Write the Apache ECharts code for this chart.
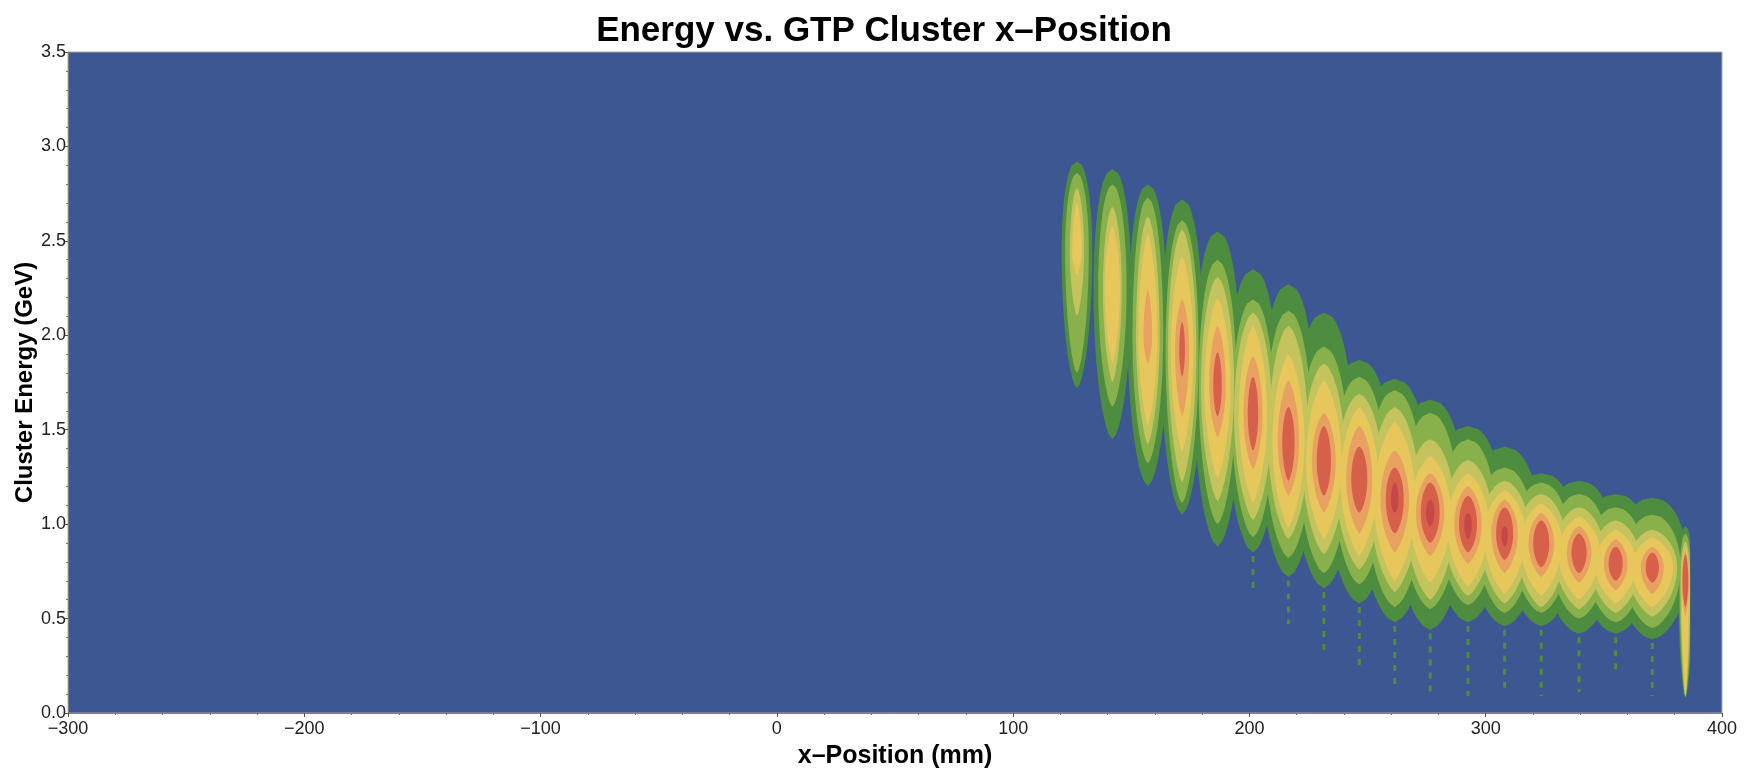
<!DOCTYPE html>
<html>
<head>
<meta charset="utf-8">
<script src="https://cdn.jsdelivr.net/npm/echarts@6/dist/echarts.min.js"></script>
<style>
  html, body { margin: 0; padding: 0; background: #ffffff; }
  #chart { width: 1747px; height: 770px; }
</style>
</head>
<body>
<div id="chart"></div>
<script>
// Crystal columns: x-position of each column (mm) and the energy where its density peaks (GeV)
const COLUMN_X = [127, 142, 157, 171.5, 186.5, 201.5, 216.5, 231.5, 246.5, 261.5, 276.5, 292.5, 308, 323.5, 339.5, 355, 370.5, 384.5];
const PEAK_E   = [2.45, 2.25, 2.0, 1.92, 1.73, 1.58, 1.43, 1.33, 1.24, 1.13, 1.06, 1.0, 0.95, 0.9, 0.85, 0.79, 0.77, 0.70];

// Calorimeter edge: nothing is recorded beyond this x (mm)
const X_EDGE = 386.5;

// Density contour bands, outermost (1) to innermost (7).
// For each column: upper and lower energy of the band (GeV) and its half-width (mm); null = band absent.
const BAND1_TOP    = [2.92, 2.88, 2.80, 2.72, 2.55, 2.35, 2.27, 2.12, 1.87, 1.77, 1.66, 1.52, 1.41, 1.27, 1.23, 1.16, 1.14, 0.99];
const BAND1_BOTTOM = [1.72, 1.45, 1.20, 1.05, 0.88, 0.85, 0.72, 0.66, 0.58, 0.48, 0.44, 0.48, 0.46, 0.46, 0.42, 0.42, 0.39, 0.08];
const BAND1_HALF   = [6.5, 8, 8.5, 9, 10, 11, 12, 13, 14, 15, 15, 15, 15, 15, 15, 15, 15, 3];

const BAND2_TOP    = [2.86, 2.80, 2.73, 2.61, 2.40, 2.19, 2.13, 1.94, 1.78, 1.71, 1.59, 1.45, 1.30, 1.22, 1.16, 1.09, 1.05, 0.95];
const BAND2_BOTTOM = [1.80, 1.62, 1.32, 1.11, 1.00, 0.93, 0.82, 0.74, 0.68, 0.56, 0.55, 0.57, 0.53, 0.53, 0.50, 0.48, 0.45, 0.085];
const BAND2_HALF   = [5, 6, 6.5, 7, 8, 9, 10, 10.5, 11, 12, 12, 12, 12, 12, 12, 12, 12, 2.5];

const BAND3_TOP    = [2.78, 2.68, 2.63, 2.56, 2.31, 2.12, 2.05, 1.85, 1.69, 1.62, 1.45, 1.34, 1.23, 1.16, 1.09, 1.02, 0.97, 0.91];
const BAND3_BOTTOM = [2.10, 1.75, 1.42, 1.22, 1.12, 1.02, 0.92, 0.84, 0.76, 0.64, 0.60, 0.62, 0.58, 0.56, 0.55, 0.53, 0.51, 0.085];
const BAND3_HALF   = [3, 4, 5, 6, 7, 8, 8.5, 9, 10, 10.5, 10.5, 10.5, 10.5, 10.5, 10.5, 10.5, 10.5, 2];

const BAND4_TOP    = [2.70, 2.58, 2.54, 2.42, 2.20, 2.05, 1.90, 1.76, 1.62, 1.54, 1.36, 1.27, 1.18, 1.11, 1.04, 0.97, 0.93, 0.88];
const BAND4_BOTTOM = [2.32, 1.85, 1.52, 1.38, 1.24, 1.11, 0.98, 0.92, 0.83, 0.70, 0.69, 0.67, 0.63, 0.62, 0.60, 0.58, 0.56, 0.09];
const BAND4_HALF   = [2, 3.2, 4, 4.8, 5.5, 6, 6.8, 7.5, 8, 8.8, 8.8, 8.8, 8.8, 8.8, 8.8, 8.8, 8.8, 1.5];

const BAND5_TOP    = [null, null, 2.24, 2.19, 2.05, 1.89, 1.76, 1.59, 1.52, 1.39, 1.27, 1.20, 1.13, 1.06, 0.99, 0.92, 0.88, 0.86];
const BAND5_BOTTOM = [null, null, 1.85, 1.57, 1.46, 1.29, 1.15, 1.06, 0.95, 0.85, 0.83, 0.79, 0.74, 0.72, 0.69, 0.65, 0.63, 0.51];
const BAND5_HALF   = [null, null, 1.8, 3, 3.5, 4, 4.5, 5, 5.5, 6, 6, 5.8, 5.6, 5.4, 5.2, 5, 4.8, 1.5];

const BAND6_TOP    = [null, null, null, 2.07, 1.91, 1.78, 1.62, 1.52, 1.41, 1.30, 1.22, 1.15, 1.09, 1.02, 0.95, 0.88, 0.85, 0.84];
const BAND6_BOTTOM = [null, null, null, 1.78, 1.57, 1.39, 1.23, 1.15, 1.06, 0.95, 0.90, 0.85, 0.81, 0.77, 0.74, 0.70, 0.69, 0.56];
const BAND6_HALF   = [null, null, null, 1.2, 1.8, 2.2, 2.6, 3, 3.4, 3.8, 4, 3.8, 3.6, 3.4, 3.2, 3, 2.8, 1.2];

const BAND7_TOP    = [null, null, null, null, null, null, null, null, null, 1.22, 1.13, 1.06, 0.99, null, null, null, null, null];
const BAND7_BOTTOM = [null, null, null, null, null, null, null, null, null, 1.06, 0.99, 0.92, 0.88, null, null, null, null, null];
const BAND7_HALF   = [null, null, null, null, null, null, null, null, null, 1.6, 1.8, 1.6, 1.4, null, null, null, null, null];

// Sparse low-energy streaks under each column: lowest energy reached (GeV)
const TAIL_BOTTOM = [null, null, null, null, null, 0.64, 0.47, 0.32, 0.24, 0.12, 0.09, 0.09, 0.11, 0.09, 0.11, 0.23, 0.09, null];

// ---- drawing -------------------------------------------------------------
const BANDS = [
  { top: BAND1_TOP, bottom: BAND1_BOTTOM, half: BAND1_HALF },
  { top: BAND2_TOP, bottom: BAND2_BOTTOM, half: BAND2_HALF },
  { top: BAND3_TOP, bottom: BAND3_BOTTOM, half: BAND3_HALF },
  { top: BAND4_TOP, bottom: BAND4_BOTTOM, half: BAND4_HALF },
  { top: BAND5_TOP, bottom: BAND5_BOTTOM, half: BAND5_HALF },
  { top: BAND6_TOP, bottom: BAND6_BOTTOM, half: BAND6_HALF },
  { top: BAND7_TOP, bottom: BAND7_BOTTOM, half: BAND7_HALF }
];
const BAND_COLORS = ['#4e8c3f', '#88b04b', '#c4c35e', '#e7c75b', '#e8a160', '#d7604b', '#c64747'];
const PLOT_BG = '#3d5793';
// profile exponents of the lens outline above / below the peak (smaller = fuller)
const SHAPE_TOP    = [0.45, 0.5, 0.6, 0.75, 0.7, 0.6, 0.6];
const SHAPE_BOTTOM = [0.6, 0.65, 0.75, 0.85, 0.8, 0.7, 0.6];

// one item per contour patch: [band, column, isTail]; streaks first, then bands outermost first
const patches = [];
TAIL_BOTTOM.forEach(function (b, c) { if (b != null) patches.push([0, c, 1]); });
BANDS.forEach(function (band, k) {
  band.top.forEach(function (t, c) { if (t != null) patches.push([k, c, 0]); });
});

function lensPoints(xc, top, bottom, peak, half, qTop, qBot) {
  const n = 60, right = [], left = [];
  for (let i = 0; i <= n; i++) {
    const e = top - (top - bottom) * i / n;
    let u, q;
    if (e >= peak) { u = (e - peak) / (top - peak); q = qTop; }
    else { u = (peak - e) / (peak - bottom); q = qBot; }
    const w = half * Math.pow(Math.max(0, 1 - u * u), q);
    right.push([Math.min(xc + w, X_EDGE), e]);
    left.push([Math.min(xc - w, X_EDGE), e]);
  }
  return right.concat(left.reverse());
}

function renderPatch(params, api) {
  const k = api.value(0), c = api.value(1), isTail = api.value(2);
  const xc = COLUMN_X[c];
  if (isTail) {
    const p0 = api.coord([xc, BAND1_BOTTOM[c] + 0.05]);
    const p1 = api.coord([xc, TAIL_BOTTOM[c]]);
    return {
      type: 'line',
      shape: { x1: p0[0], y1: p0[1], x2: p1[0], y2: p1[1] },
      style: { stroke: BAND_COLORS[0], lineWidth: 3, lineDash: [6, 7] }
    };
  }
  const band = BANDS[k];
  const top = band.top[c], bottom = band.bottom[c];
  const peak = Math.min(top - 0.01, Math.max(bottom + 0.01, PEAK_E[c]));
  const pts = lensPoints(xc, top, bottom, peak, band.half[c], SHAPE_TOP[k], SHAPE_BOTTOM[k]);
  return {
    type: 'polygon',
    shape: { points: pts.map(function (p) { return api.coord(p); }) },
    style: { fill: BAND_COLORS[k], stroke: null }
  };
}

const FONT = 'Liberation Sans, Arial, sans-serif';
const chart = echarts.init(document.getElementById('chart'), null, { renderer: 'canvas' });
chart.setOption({
  animation: false,
  backgroundColor: '#ffffff',
  textStyle: { fontFamily: FONT },
  title: {
    text: 'Energy vs. GTP Cluster x\u2013Position',
    left: 879,
    textAlign: 'center',
    top: 9,
    textStyle: { fontSize: 35, fontWeight: 'bold', color: '#000', fontFamily: FONT }
  },
  grid: {
    left: 68, right: 25, top: 52, bottom: 57,
    containLabel: false, outerBoundsMode: 'none',
    show: true, backgroundColor: PLOT_BG, borderColor: '#a8a8a8', borderWidth: 1
  },
  xAxis: {
    type: 'value', min: -300, max: 400, interval: 100,
    name: 'x\u2013Position (mm)', nameLocation: 'middle', nameGap: 31, nameMoveOverlap: false,
    nameTextStyle: { fontSize: 25, fontWeight: 'bold', color: '#000', fontFamily: FONT },
    axisLine: { show: true, onZero: false, lineStyle: { color: '#808080', width: 1 } },
    axisTick: { show: true, length: 4, lineStyle: { color: '#555' } },
    minorTick: { show: true, splitNumber: 5, length: 2, lineStyle: { color: '#777' } },
    splitLine: { show: false },
    axisLabel: {
      fontSize: 18, color: '#222', margin: 7, fontFamily: FONT,
      formatter: function (v) { return v < 0 ? '\u2212' + (-v) : String(v); }
    }
  },
  yAxis: {
    type: 'value', min: 0, max: 3.5, interval: 0.5,
    name: 'Cluster Energy (GeV)', nameLocation: 'middle', nameGap: 31, nameMoveOverlap: false,
    nameTextStyle: { fontSize: 24, fontWeight: 'bold', color: '#000', fontFamily: FONT },
    axisLine: { show: true, onZero: false, lineStyle: { color: '#808080', width: 1 } },
    axisTick: { show: true, length: 3, lineStyle: { color: '#555' } },
    minorTick: { show: true, splitNumber: 5, length: 2, lineStyle: { color: '#777' } },
    splitLine: { show: false },
    axisLabel: {
      fontSize: 18, color: '#222', margin: 2, fontFamily: FONT,
      formatter: function (v) { return v.toFixed(1); }
    }
  },
  series: [{
    type: 'custom',
    coordinateSystem: 'cartesian2d',
    renderItem: renderPatch,
    data: patches,
    clip: true,
    silent: true
  }]
});
</script>
</body>
</html>
